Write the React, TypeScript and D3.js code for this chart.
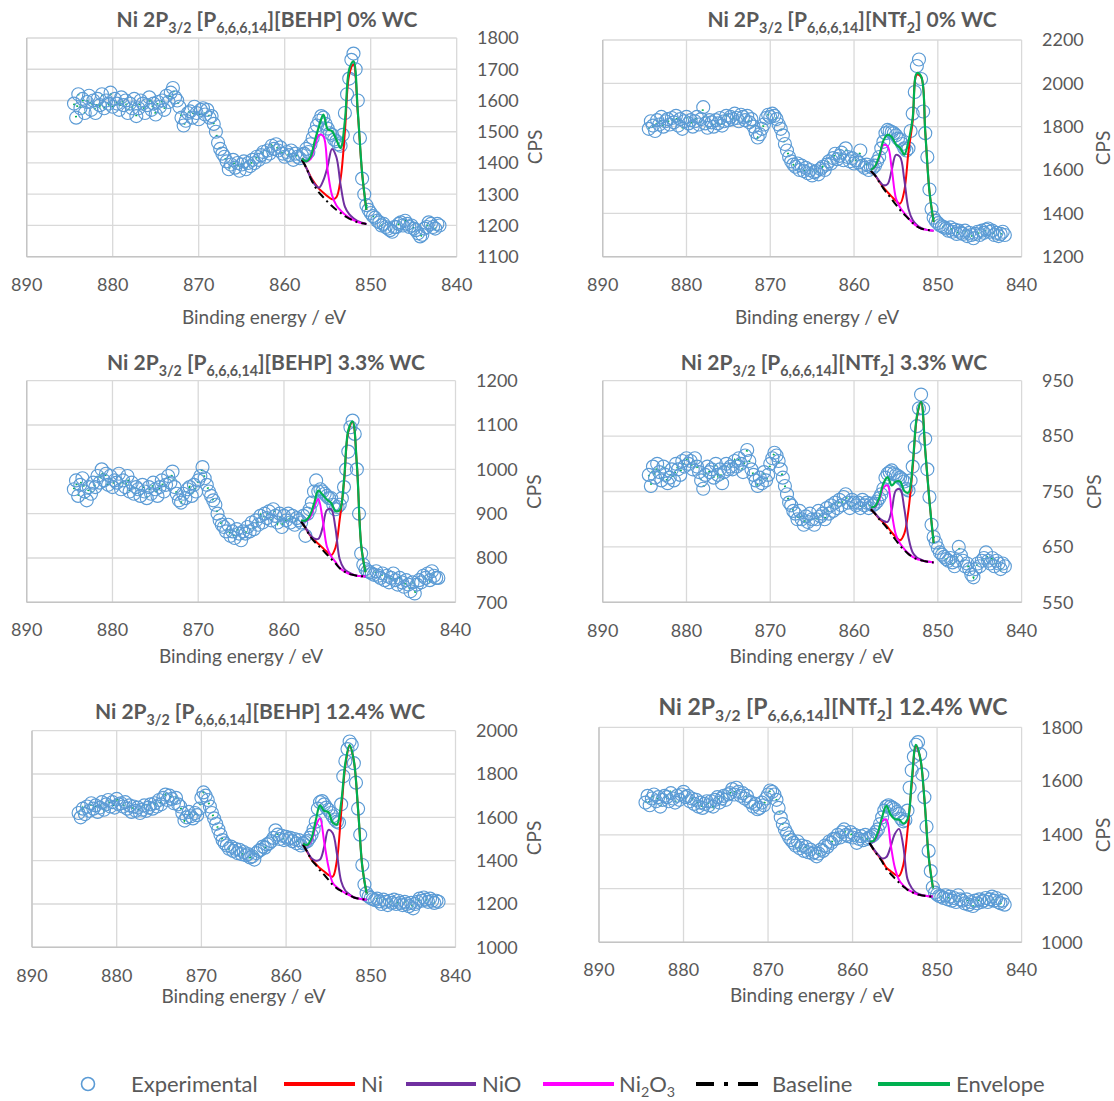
import React from 'react';
import * as d3 from 'd3';

const W = 1114;
const H = 1101;

// Energy grid of the experimental points (eV): 884.5 → 842 in 0.25 eV steps
const ENERGY: number[] = d3.range(884.5, 841.875, -0.25);
// Energy grid of the fitted components (eV)
const FIT_ENERGY: number[] = d3.range(858, 850.25, -0.5);

const X_TICKS = [890, 880, 870, 860, 850, 840];

// ---------- [P6,6,6,14][BEHP] 0% WC ----------  (rows of 10 points, 2.5 eV each)
const behp0Exp = [
  1590, 1545, 1620, 1575, 1605, 1560, 1595, 1615, 1570, 1600,
  1560, 1605, 1585, 1620, 1575, 1600, 1590, 1625, 1580, 1605,
  1590, 1570, 1610, 1585, 1600, 1560, 1590, 1575, 1605, 1550,
  1575, 1600, 1590, 1560, 1585, 1610, 1570, 1590, 1555, 1595,
  1580, 1600, 1570, 1615, 1595, 1625, 1640, 1610, 1600, 1580,
  1545, 1520, 1535, 1560, 1565, 1545, 1580, 1560, 1540, 1570,
  1575, 1555, 1570, 1545, 1550, 1525, 1500, 1465, 1445, 1430,
  1420, 1405, 1380, 1395, 1410, 1385, 1400, 1375, 1395, 1405,
  1380, 1400, 1390, 1410, 1400, 1420, 1410, 1425, 1435, 1420,
  1440, 1430, 1455, 1445, 1460, 1440, 1450, 1430, 1420, 1435,
  1425, 1440, 1410, 1430, 1420, 1415, 1425, 1430, 1445, 1435,
  1460, 1480, 1500, 1520, 1535, 1550, 1545, 1525, 1510, 1495,
  1490, 1475, 1470, 1460, 1455, 1490, 1560, 1620, 1670, 1730,
  1750, 1700, 1600, 1480, 1350, 1300, 1265, 1250, 1240, 1230,
  1225, 1215, 1210, 1200, 1205, 1195, 1190, 1185, 1180, 1195,
  1195, 1205, 1210, 1200, 1215, 1205, 1195, 1200, 1190, 1185,
  1175, 1165, 1170, 1190, 1195, 1210, 1205, 1195, 1190, 1205,
  1200,
];
const behp0Base = [1410, 1385, 1352, 1325, 1305, 1290, 1275, 1262, 1250, 1240, 1230, 1222, 1215, 1210, 1207, 1205];
const behp0Ni = [0, 0, 5, 10, 12, 15, 18, 22, 40, 110, 270, 460, 500, 350, 160, 45];
const behp0NiO = [0, 0, 2, 6, 16, 55, 115, 183, 170, 90, 30, 14, 8, 4, 2, 0];
const behp0Ni2O3 = [5, 20, 60, 130, 185, 195, 100, 35, 15, 8, 5, 3, 2, 1, 0, 0];

// ---------- [P6,6,6,14][NTf2] 0% WC ----------
const ntf0Exp = [
  1790, 1825, 1805, 1780, 1830, 1810, 1845, 1800, 1825, 1835,
  1810, 1840, 1820, 1850, 1805, 1835, 1790, 1825, 1845, 1815,
  1830, 1800, 1825, 1845, 1810, 1835, 1890, 1815, 1795, 1830,
  1820, 1800, 1830, 1815, 1840, 1805, 1825, 1850, 1830, 1845,
  1835, 1860, 1840, 1825, 1855, 1845, 1830, 1850, 1820, 1835,
  1800, 1775, 1750, 1765, 1790, 1810, 1840, 1855, 1845, 1860,
  1850, 1835, 1810, 1790, 1760, 1720, 1690, 1660, 1640, 1625,
  1615, 1630, 1600, 1620, 1595, 1610, 1585, 1600, 1575, 1590,
  1595, 1580, 1605, 1615, 1600, 1625, 1640, 1630, 1655, 1675,
  1650, 1665, 1680, 1645, 1700, 1660, 1640, 1655, 1630, 1645,
  1635, 1690, 1620, 1610, 1625, 1600, 1615, 1610, 1620, 1640,
  1660, 1700, 1730, 1770, 1785, 1780, 1775, 1770, 1760, 1745,
  1740, 1720, 1700, 1690, 1700, 1780, 1860, 1960, 2080, 2110,
  2020, 1870, 1770, 1660, 1510, 1420, 1380, 1365, 1355, 1345,
  1340, 1335, 1330, 1320, 1335, 1315, 1325, 1305, 1320, 1310,
  1305, 1320, 1295, 1310, 1300, 1285, 1305, 1315, 1300, 1320,
  1310, 1325, 1330, 1315, 1320, 1300, 1310, 1295, 1305, 1315,
  1300,
];
const ntf0Base = [1595, 1575, 1545, 1515, 1490, 1465, 1440, 1415, 1395, 1375, 1355, 1340, 1330, 1325, 1322, 1320];
const ntf0Ni = [0, 0, 3, 5, 8, 12, 18, 30, 110, 310, 470, 700, 700, 450, 180, 40];
const ntf0NiO = [0, 2, 5, 15, 45, 135, 230, 245, 160, 45, 14, 6, 3, 1, 0, 0];
const ntf0Ni2O3 = [5, 40, 110, 200, 220, 140, 30, 12, 6, 3, 2, 1, 0, 0, 0, 0];

// ---------- [P6,6,6,14][BEHP] 3.3% WC ----------
const behp33Exp = [
  955, 975, 940, 965, 980, 950, 930, 960, 945, 970,
  960, 985, 970, 1000, 975, 990, 965, 985, 960, 975,
  970, 990, 955, 975, 960, 985, 950, 970, 945, 960,
  955, 940, 965, 950, 935, 960, 945, 970, 955, 940,
  960, 975, 950, 965, 985, 970, 995, 960, 945, 930,
  925, 945, 935, 955, 960, 940, 965, 950, 975, 985,
  1005, 980, 965, 950, 940, 930, 920, 900, 885, 875,
  870, 860, 875, 850, 860, 845, 865, 855, 840, 860,
  855, 870, 860, 880, 865, 885, 875, 895, 880, 900,
  890, 905, 885, 910, 895, 880, 900, 870, 895, 885,
  900, 880, 895, 875, 890, 885, 880, 895, 850, 900,
  910, 925, 950, 975, 950, 955, 950, 945, 940, 935,
  935, 920, 910, 915, 920, 935, 960, 1000, 1040, 1095,
  1110, 1080, 1000, 900, 810, 785, 775, 770, 768, 765,
  762, 770, 760, 755, 765, 750, 760, 745, 755, 765,
  750, 740, 755, 745, 735, 750, 740, 725, 745, 720,
  740, 750, 745, 760, 755, 765, 750, 770, 760, 755,
  755,
];
const behp33Base = [882, 868, 850, 838, 828, 818, 808, 798, 788, 777, 770, 765, 762, 760, 759, 758];
const behp33Ni = [0, 0, 2, 3, 4, 5, 6, 8, 35, 110, 200, 320, 345, 250, 70, 10];
const behp33NiO = [0, 1, 3, 6, 15, 50, 100, 112, 80, 20, 6, 3, 1, 0, 0, 0];
const behp33Ni2O3 = [3, 15, 40, 75, 105, 70, 18, 6, 3, 1, 0, 0, 0, 0, 0, 0];

// ---------- [P6,6,6,14][NTf2] 3.3% WC ----------
const ntf33Exp = [
  780, 760, 795, 775, 800, 785, 770, 795, 780, 765,
  775, 790, 770, 800, 790, 780, 805, 795, 810, 800,
  805, 790, 810, 795, 785, 770, 755, 780, 795, 785,
  790, 775, 800, 780, 790, 765, 785, 800, 790, 795,
  790, 805, 795, 810, 800, 785, 815, 825, 805, 790,
  780, 770, 760, 775, 765, 785, 770, 780, 800, 810,
  820, 815, 805, 790, 775, 760, 745, 730, 725, 715,
  710, 700, 715, 700, 690, 705, 695, 710, 700, 690,
  700, 715, 705, 710, 700, 720, 710, 725, 715, 730,
  720, 735, 725, 740, 745, 730, 720, 735, 730, 725,
  730, 720, 735, 725, 730, 720, 728, 725, 728, 732,
  738, 745, 755, 775, 782, 785, 788, 783, 780, 778,
  775, 772, 768, 755, 752, 770, 795, 830, 868, 900,
  925, 900, 845, 790, 740, 690, 668, 658, 648, 640,
  636, 632, 628, 625, 630, 622, 615, 625, 650, 635,
  625, 615, 620, 610, 600, 595, 610, 620, 615, 625,
  630, 640, 625, 620, 630, 615, 625, 620, 610, 620,
  615,
];
const ntf33Base = [718, 710, 700, 692, 683, 672, 662, 652, 644, 637, 632, 628, 626, 624, 623, 622];
const ntf33Ni = [0, 0, 1, 2, 3, 4, 6, 10, 30, 80, 160, 255, 285, 200, 110, 35];
const ntf33NiO = [0, 1, 2, 5, 12, 45, 90, 102, 75, 30, 8, 3, 1, 0, 0, 0];
const ntf33Ni2O3 = [3, 12, 35, 65, 78, 40, 10, 4, 2, 1, 0, 0, 0, 0, 0, 0];

// ---------- [P6,6,6,14][BEHP] 12.4% WC ----------
const behp124Exp = [
  1620, 1600, 1640, 1615, 1650, 1630, 1665, 1640, 1655, 1625,
  1645, 1670, 1635, 1660, 1680, 1650, 1670, 1645, 1685, 1660,
  1665, 1650, 1670, 1640, 1655, 1625, 1650, 1630, 1645, 1620,
  1635, 1655, 1630, 1645, 1660, 1640, 1665, 1650, 1680, 1660,
  1690, 1705, 1680, 1700, 1685, 1665, 1690, 1660, 1650, 1620,
  1585, 1600, 1625, 1605, 1595, 1620, 1610, 1640, 1690, 1715,
  1700, 1680, 1650, 1620, 1595, 1570, 1545, 1520, 1495, 1480,
  1470, 1455, 1465, 1445, 1455, 1435, 1450, 1430, 1440, 1425,
  1430, 1415, 1420, 1405, 1435, 1445, 1450, 1465, 1460, 1475,
  1480, 1490, 1505, 1540, 1520, 1500, 1515, 1495, 1510, 1500,
  1505, 1490, 1500, 1480, 1495, 1470, 1480, 1485, 1490, 1505,
  1520, 1545, 1580, 1640, 1670, 1675, 1660, 1645, 1635, 1620,
  1605, 1590, 1580, 1575, 1660, 1790, 1860, 1915, 1950, 1935,
  1850, 1760, 1640, 1520, 1380, 1290, 1250, 1235, 1228, 1222,
  1218, 1225, 1212, 1200, 1220, 1210, 1195, 1215, 1205, 1220,
  1200, 1215, 1205, 1195, 1210, 1200, 1190, 1205, 1180, 1200,
  1210, 1225, 1215, 1230, 1220, 1210, 1225, 1215, 1205, 1215,
  1210,
];
const behp124Base = [1475, 1440, 1403, 1380, 1355, 1335, 1312, 1288, 1272, 1260, 1249, 1240, 1230, 1225, 1222, 1220];
const behp124Ni = [0, 0, 2, 5, 10, 15, 22, 38, 130, 360, 590, 690, 630, 410, 150, 30];
const behp124NiO = [0, 2, 8, 20, 50, 130, 230, 240, 160, 45, 12, 4, 2, 1, 0, 0];
const behp124Ni2O3 = [5, 30, 90, 180, 240, 150, 60, 10, 5, 2, 1, 0, 0, 0, 0, 0];

// ---------- [P6,6,6,14][NTf2] 12.4% WC ----------
const ntf124Exp = [
  1520, 1545, 1510, 1535, 1550, 1525, 1540, 1505, 1530, 1545,
  1540, 1525, 1555, 1535, 1520, 1545, 1530, 1550, 1560, 1540,
  1545, 1525, 1535, 1515, 1530, 1505, 1520, 1500, 1515, 1525,
  1510, 1525, 1505, 1530, 1540, 1520, 1535, 1545, 1530, 1550,
  1555, 1570, 1550, 1575, 1560, 1545, 1555, 1535, 1545, 1525,
  1520, 1505, 1515, 1495, 1500, 1520, 1510, 1535, 1550, 1565,
  1560, 1550, 1530, 1500, 1465, 1440, 1420, 1405, 1390, 1380,
  1370, 1360, 1375, 1350, 1360, 1340, 1355, 1335, 1345, 1330,
  1335, 1320, 1330, 1345, 1340, 1360, 1355, 1375, 1370, 1385,
  1385, 1400, 1390, 1410, 1420, 1400, 1395, 1410, 1390, 1400,
  1370, 1385, 1395, 1380, 1400, 1385, 1390, 1395, 1400, 1410,
  1420, 1440, 1465, 1490, 1505, 1510, 1505, 1500, 1495, 1485,
  1478, 1460, 1450, 1455, 1490, 1575, 1640, 1690, 1735, 1745,
  1700, 1625, 1540, 1430, 1340, 1265, 1205, 1185, 1178, 1172,
  1170, 1165, 1175, 1160, 1170, 1155, 1165, 1150, 1175, 1160,
  1155, 1145, 1160, 1140, 1150, 1135, 1155, 1145, 1160, 1150,
  1155, 1165, 1150, 1160, 1170, 1155, 1165, 1150, 1145, 1155,
  1140,
];
const ntf124Base = [1370, 1345, 1322, 1300, 1272, 1255, 1238, 1222, 1208, 1195, 1187, 1180, 1176, 1173, 1171, 1170];
const ntf124Ni = [0, 0, 2, 4, 6, 10, 15, 25, 80, 220, 400, 550, 510, 360, 150, 35];
const ntf124NiO = [0, 2, 5, 12, 45, 100, 165, 200, 150, 40, 15, 5, 2, 1, 0, 0];
const ntf124Ni2O3 = [5, 30, 80, 150, 185, 110, 40, 10, 4, 2, 1, 0, 0, 0, 0, 0];

const TEXT = '#595959';
const FONT = 'Lato, "Open Sans", sans-serif';
const C_EXP = '#5B9BD5';
const C_NI = '#FF0000';
const C_NIO = '#7030A0';
const C_NI2O3 = '#FF00FF';
const C_BASE = '#000000';
const C_ENV = '#00B050';

type Panel = {
  anion: 'BEHP' | 'NTf2';
  wc: string;
  exp: number[];
  base: number[];
  ni: number[];
  nio: number[];
  ni2o3: number[];
  yDomain: [number, number];
  yStep: number;
  left: number; right: number; top: number; bottom: number;
  titleX: number; titleY: number; titleSize: number;
  xTickY: number; axisTitleX: number; axisTitleY: number;
  yLabelX: number; cpsX: number; cpsY: number;
};

const PANELS: Panel[] = [
  {
    anion: 'BEHP', wc: '0% WC', exp: behp0Exp, base: behp0Base, ni: behp0Ni, nio: behp0NiO, ni2o3: behp0Ni2O3,
    yDomain: [1100, 1800], yStep: 100,
    left: 26.7, right: 456.7, top: 38, bottom: 256.7,
    titleX: 267, titleY: 20, titleSize: 21, xTickY: 285, axisTitleX: 264, axisTitleY: 317,
    yLabelX: 477, cpsX: 535, cpsY: 147,
  },
  {
    anion: 'NTf2', wc: '0% WC', exp: ntf0Exp, base: ntf0Base, ni: ntf0Ni, nio: ntf0NiO, ni2o3: ntf0Ni2O3,
    yDomain: [1200, 2200], yStep: 200,
    left: 602.7, right: 1021.6, top: 40, bottom: 256.7,
    titleX: 852, titleY: 20, titleSize: 21, xTickY: 285, axisTitleX: 817, axisTitleY: 317,
    yLabelX: 1042, cpsX: 1103, cpsY: 148,
  },
  {
    anion: 'BEHP', wc: '3.3% WC', exp: behp33Exp, base: behp33Base, ni: behp33Ni, nio: behp33NiO, ni2o3: behp33Ni2O3,
    yDomain: [700, 1200], yStep: 100,
    left: 26.7, right: 455.5, top: 380.7, bottom: 602.3,
    titleX: 266, titleY: 362.7, titleSize: 21, xTickY: 630, axisTitleX: 241, axisTitleY: 656.7,
    yLabelX: 476, cpsX: 534, cpsY: 491.7,
  },
  {
    anion: 'NTf2', wc: '3.3% WC', exp: ntf33Exp, base: ntf33Base, ni: ntf33Ni, nio: ntf33NiO, ni2o3: ntf33Ni2O3,
    yDomain: [550, 950], yStep: 100,
    left: 602.7, right: 1021.6, top: 380.7, bottom: 602.3,
    titleX: 834, titleY: 362.7, titleSize: 21, xTickY: 631, axisTitleX: 811.6, axisTitleY: 656.7,
    yLabelX: 1042, cpsX: 1094, cpsY: 491.7,
  },
  {
    anion: 'BEHP', wc: '12.4% WC', exp: behp124Exp, base: behp124Base, ni: behp124Ni, nio: behp124NiO, ni2o3: behp124Ni2O3,
    yDomain: [1000, 2000], yStep: 200,
    left: 32, right: 455.5, top: 730.7, bottom: 947.3,
    titleX: 260, titleY: 711.7, titleSize: 21, xTickY: 976, axisTitleX: 243.5, axisTitleY: 996.7,
    yLabelX: 476, cpsX: 534, cpsY: 838,
  },
  {
    anion: 'NTf2', wc: '12.4% WC', exp: ntf124Exp, base: ntf124Base, ni: ntf124Ni, nio: ntf124NiO, ni2o3: ntf124Ni2O3,
    yDomain: [1000, 1800], yStep: 200,
    left: 599, right: 1021.6, top: 727.3, bottom: 942.3,
    titleX: 833, titleY: 706.7, titleSize: 23, xTickY: 970, axisTitleX: 812, axisTitleY: 995,
    yLabelX: 1041, cpsX: 1103, cpsY: 835,
  },
];

function Title({ p }: { p: Panel }) {
  const fs = p.titleSize;
  const sub = fs * 0.68;
  const d = fs * 0.28;
  return (
    <text x={p.titleX} y={p.titleY} textAnchor="middle" dy="0.35em" fontFamily={FONT}
      fontWeight="bold" fontSize={fs} fill={TEXT}>
      <tspan>Ni 2P</tspan>
      <tspan fontSize={sub} dy={d}>3/2</tspan>
      <tspan dy={-d}> [P</tspan>
      <tspan fontSize={sub} dy={d}>6,6,6,14</tspan>
      {p.anion === 'BEHP' ? (
        <tspan dy={-d}>][BEHP] {p.wc}</tspan>
      ) : (
        <>
          <tspan dy={-d}>][NTf</tspan>
          <tspan fontSize={sub} dy={d}>2</tspan>
          <tspan dy={-d}>] {p.wc}</tspan>
        </>
      )}
    </text>
  );
}

function PanelChart({ p }: { p: Panel }) {
  const x = d3.scaleLinear().domain([890, 840]).range([p.left, p.right]);
  const y = d3.scaleLinear().domain(p.yDomain).range([p.bottom, p.top]);
  const yTicks = d3.range(p.yDomain[0], p.yDomain[1] + 0.001, p.yStep);

  const pts: [number, number][] = ENERGY.map((e, i) => [e, p.exp[i]]);
  const straight = d3.line<[number, number]>().x(d => x(d[0])).y(d => y(d[1]));
  const smooth = d3.line<[number, number]>().x(d => x(d[0])).y(d => y(d[1])).curve(d3.curveCatmullRom.alpha(0.5));

  const comp = (arr: number[] | null): [number, number][] =>
    FIT_ENERGY.map((e, i) => [e, p.base[i] + (arr ? arr[i] : 0)]);
  const env: [number, number][] = FIT_ENERGY.map((e, i) => [e, p.base[i] + p.ni[i] + p.nio[i] + p.ni2o3[i]]);

  const leftPts = pts.filter(d => d[0] >= 858);
  const rightPts = pts.filter(d => d[0] <= 850.5);

  return (
    <g>
      {yTicks.map(t => (
        <line key={'h' + t} x1={p.left} x2={p.right} y1={y(t)} y2={y(t)} stroke="#D9D9D9" strokeWidth={1.3} />
      ))}
      {X_TICKS.map(t => (
        <line key={'v' + t} x1={x(t)} x2={x(t)} y1={p.top} y2={p.bottom} stroke="#D9D9D9" strokeWidth={1.3} />
      ))}
      <line x1={p.left} x2={p.right} y1={p.bottom} y2={p.bottom} stroke="#C4C4C4" strokeWidth={1.4} />
      <line x1={p.left} x2={p.left} y1={p.top} y2={p.bottom} stroke="#C4C4C4" strokeWidth={1.4} />

      {/* envelope following the data outside the fit window */}
      <path d={straight(leftPts) || ''} fill="none" stroke={C_ENV} strokeWidth={2} strokeDasharray="1.5 11" />
      <path d={straight(rightPts) || ''} fill="none" stroke={C_ENV} strokeWidth={2} strokeDasharray="1.5 11" />

      {pts.map((d, i) => (
        <circle key={i} cx={x(d[0])} cy={y(d[1])} r={6.5} fill="none" stroke={C_EXP} strokeWidth={1.15} />
      ))}

      <path d={smooth(comp(p.ni)) || ''} fill="none" stroke={C_NI} strokeWidth={2} />
      <path d={smooth(comp(p.nio)) || ''} fill="none" stroke={C_NIO} strokeWidth={2} />
      <path d={smooth(comp(p.ni2o3)) || ''} fill="none" stroke={C_NI2O3} strokeWidth={2} />
      <path d={smooth(comp(null)) || ''} fill="none" stroke={C_BASE} strokeWidth={2} strokeDasharray="8 4 2 4" />
      <path d={smooth(env) || ''} fill="none" stroke={C_ENV} strokeWidth={2.2} />

      {X_TICKS.map(t => (
        <text key={'xt' + t} x={x(t)} y={p.xTickY} dy="0.35em" textAnchor="middle" fontFamily={FONT} fontSize={18} fill={TEXT}>
          {t}
        </text>
      ))}
      {yTicks.map(t => (
        <text key={'yt' + t} x={p.yLabelX} y={y(t)} dy="0.35em" textAnchor="start" fontFamily={FONT} fontSize={18} fill={TEXT}>
          {t}
        </text>
      ))}
      <text x={p.axisTitleX} y={p.axisTitleY} dy="0.35em" textAnchor="middle" fontFamily={FONT} fontSize={19} fill={TEXT}>
        Binding energy / eV
      </text>
      <text transform={`translate(${p.cpsX},${p.cpsY}) rotate(-90)`} dy="0.35em" textAnchor="middle" fontFamily={FONT} fontSize={19} fill={TEXT}>
        CPS
      </text>
      <Title p={p} />
    </g>
  );
}

function Legend() {
  const cy = 1084;
  const fs = 22;
  const t = (xx: number, s: React.ReactNode) => (
    <text x={xx} y={cy} dy="0.35em" fontFamily={FONT} fontSize={fs} fill={TEXT}>{s}</text>
  );
  return (
    <g>
      <circle cx={88} cy={cy} r={6.5} fill="none" stroke={C_EXP} strokeWidth={1.6} />
      {t(131, 'Experimental')}
      <line x1={284} x2={355} y1={cy} y2={cy} stroke={C_NI} strokeWidth={4} />
      {t(361, 'Ni')}
      <line x1={406} x2={476} y1={cy} y2={cy} stroke={C_NIO} strokeWidth={4} />
      {t(482, 'NiO')}
      <line x1={543} x2={614} y1={cy} y2={cy} stroke={C_NI2O3} strokeWidth={4} />
      <text x={619} y={cy} dy="0.35em" fontFamily={FONT} fontSize={fs} fill={TEXT}>
        Ni<tspan fontSize={fs * 0.65} dy={5}>2</tspan><tspan dy={-5}>O</tspan><tspan fontSize={fs * 0.65} dy={5}>3</tspan>
      </text>
      <line x1={696} x2={758} y1={cy} y2={cy} stroke={C_BASE} strokeWidth={4} strokeDasharray="18 10 4 10 20" />
      {t(772, 'Baseline')}
      <line x1={878} x2={950} y1={cy} y2={cy} stroke={C_ENV} strokeWidth={4} />
      {t(956, 'Envelope')}
    </g>
  );
}

export default function App() {
  return (
    <svg width={W} height={H} viewBox={`0 0 ${W} ${H}`}
      style={{ position: 'absolute', left: 0, top: 0, background: '#fff' }}>
      <rect width={W} height={H} fill="#fff" />
      {PANELS.map((p, i) => <PanelChart key={i} p={p} />)}
      <Legend />
    </svg>
  );
}
